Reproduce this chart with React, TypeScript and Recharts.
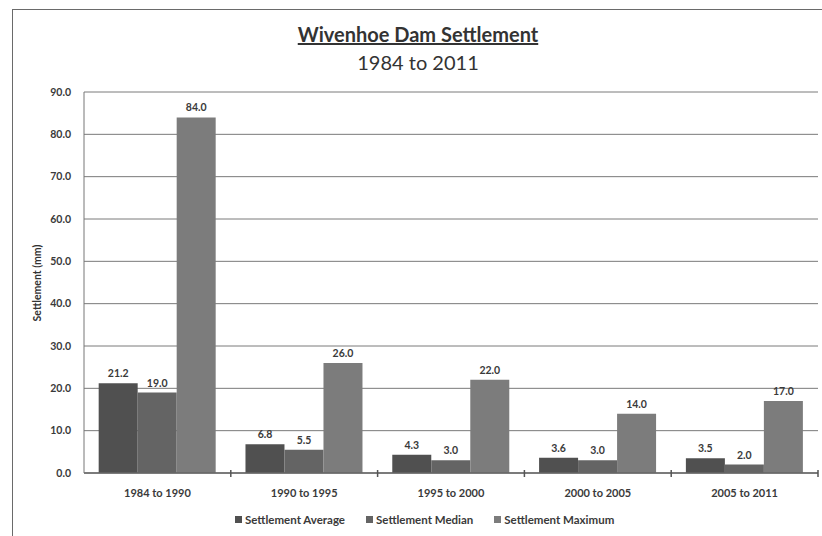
import React from 'react';
import { BarChart, Bar, XAxis, YAxis, CartesianGrid, LabelList } from 'recharts';

const categories = ['1984 to 1990', '1990 to 1995', '1995 to 2000', '2000 to 2005', '2005 to 2011'];
const settlementAverage = [21.2, 6.8, 4.3, 3.6, 3.5];
const settlementMedian = [19.0, 5.5, 3.0, 3.0, 2.0];
const settlementMaximum = [84.0, 26.0, 22.0, 14.0, 17.0];
const yTicks = [0, 10, 20, 30, 40, 50, 60, 70, 80, 90];
const seriesNames = ['Settlement Average', 'Settlement Median', 'Settlement Maximum'];
const seriesColors = ['#505050', '#646464', '#7c7c7c'];

const data = categories.map((c, i) => ({
  name: c,
  avg: settlementAverage[i],
  med: settlementMedian[i],
  max: settlementMaximum[i],
}));

const FONT = 'Lato, "Open Sans", sans-serif';
const fmt = (v: number) => Number(v).toFixed(1);

const CatTick = (props: any) => {
  const { x, y, payload, index, visibleTicksCount } = props;
  const half = payload && typeof payload.offset === 'number' ? payload.offset : 0;
  const last = index === (visibleTicksCount ?? categories.length) - 1;
  return (
    <g>
      {index > 0 && <line x1={x - half} x2={x - half} y1={y - 3} y2={y + 4} stroke="#555" strokeWidth={1.5} />}
      {last && <line x1={x + half} x2={x + half} y1={y - 3} y2={y + 4} stroke="#555" strokeWidth={1.5} />}
      <text x={x} y={y + 24} textAnchor="middle" fill="#3a3a3a" fontSize={11} fontWeight={700} fontFamily={FONT}>
        {payload.value}
      </text>
    </g>
  );
};

export default function App() {
  const labelStyle = { fill: '#3a3a3a', fontSize: 10.5, fontWeight: 700, fontFamily: FONT };
  return (
    <div style={{ position: 'absolute', left: 0, top: 0, width: 822, height: 536, background: '#fff', overflow: 'hidden' }}>
      <div style={{ position: 'absolute', left: 12, top: 9, width: 812, height: 530, borderTop: '1.5px solid #6a6a6a', borderLeft: '1.5px solid #6a6a6a' }} />
      <div style={{ position: 'absolute', left: 12, width: 812, top: 22, textAlign: 'center', fontFamily: FONT, fontSize: 20, fontWeight: 700, color: '#333', textDecoration: 'underline', lineHeight: '24px' }}>
        Wivenhoe Dam Settlement
      </div>
      <div style={{ position: 'absolute', left: 12, width: 812, top: 50, textAlign: 'center', fontFamily: FONT, fontSize: 20, fontWeight: 400, color: '#333', lineHeight: '24px' }}>
        1984 to 2011
      </div>
      <div style={{ position: 'absolute', left: 37, top: 283, width: 0, height: 0 }}>
        <div style={{ position: 'absolute', left: -60, top: -8, width: 120, textAlign: 'center', transform: 'rotate(-90deg)', fontFamily: FONT, fontSize: 10.5, fontWeight: 700, color: '#333', lineHeight: '16px' }}>
          Settlement (mm)
        </div>
      </div>
      <div style={{ position: 'absolute', left: 0, top: 0 }}>
        <BarChart width={822} height={536} data={data} margin={{ top: 92, right: 4, bottom: 33, left: 0 }} barCategoryGap="10%" barGap={0}>
          <CartesianGrid vertical={false} stroke="#7a7a7a" strokeWidth={1} />
          <XAxis dataKey="name" height={30} tickLine={false} tickSize={0} tickMargin={0} axisLine={{ stroke: '#666', strokeWidth: 1.5 }} tick={<CatTick />} interval={0} />
          <YAxis width={84} domain={[0, 90]} ticks={yTicks} tickFormatter={fmt} tickLine={false} axisLine={{ stroke: '#777' }} tick={{ fill: '#3a3a3a', fontSize: 10.5, fontWeight: 700, fontFamily: FONT }} tickMargin={7} interval={0} />
          <Bar dataKey="avg" name={seriesNames[0]} fill={seriesColors[0]} isAnimationActive={false}>
            <LabelList dataKey="avg" position="top" offset={6} formatter={fmt} style={labelStyle} />
          </Bar>
          <Bar dataKey="med" name={seriesNames[1]} fill={seriesColors[1]} isAnimationActive={false}>
            <LabelList dataKey="med" position="top" offset={6} formatter={fmt} style={labelStyle} />
          </Bar>
          <Bar dataKey="max" name={seriesNames[2]} fill={seriesColors[2]} isAnimationActive={false}>
            <LabelList dataKey="max" position="top" offset={6} formatter={fmt} style={labelStyle} />
          </Bar>
        </BarChart>
      </div>
      <div style={{ position: 'absolute', left: 235, top: 513, display: 'flex', alignItems: 'center', fontFamily: FONT, fontSize: 11.5, fontWeight: 700, color: '#3a3a3a', whiteSpace: 'nowrap' }}>
        {seriesNames.map((n, i) => (
          <div key={n} style={{ display: 'flex', alignItems: 'center', marginRight: 21 }}>
            <span style={{ display: 'inline-block', width: 7, height: 7, background: seriesColors[i], marginRight: 3 }} />
            <span>{n}</span>
          </div>
        ))}
      </div>
    </div>
  );
}
